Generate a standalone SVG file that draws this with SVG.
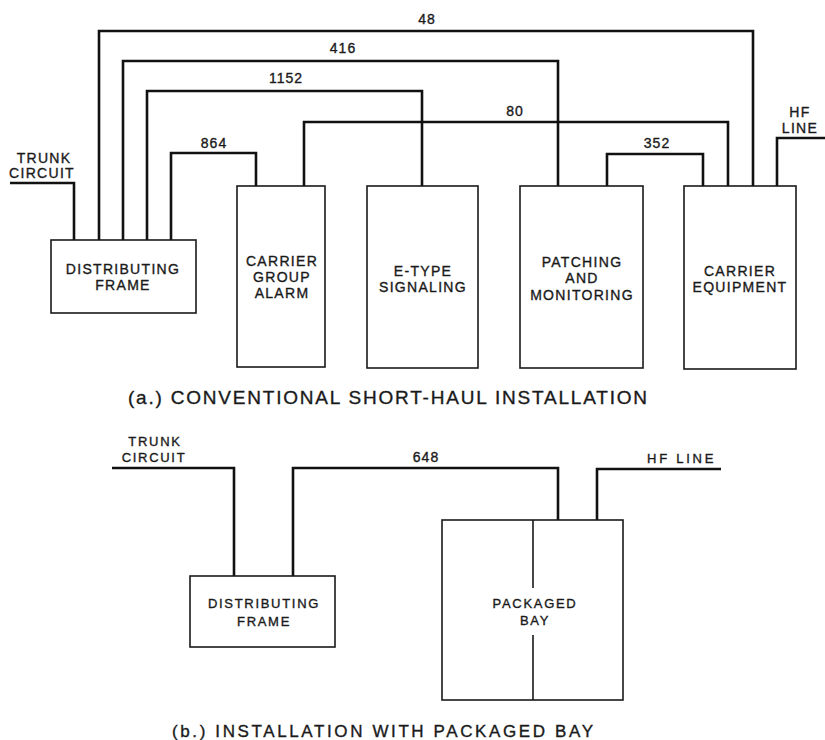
<svg xmlns="http://www.w3.org/2000/svg" width="825" height="740" viewBox="0 0 825 740">
<style>
.bg{fill:#ffffff}
.box{fill:none;stroke:#1a1a1a;stroke-width:1.6}
.wire{fill:none;stroke:#111;stroke-width:2.6;stroke-linejoin:miter;stroke-linecap:butt}
text{font-family:"Liberation Sans",Arial,sans-serif;fill:#1a1a1a;stroke:#1a1a1a;stroke-width:0.35;text-anchor:middle}
.lbl{font-size:14px;letter-spacing:1.3px}
.num{font-size:14px;letter-spacing:1px}
.sm{font-size:13px;letter-spacing:1.7px}
.cap{font-size:19px;text-anchor:start}
.capb{font-size:17px;text-anchor:start}
</style>
<rect class="bg" x="0" y="0" width="825" height="740"/>

<g id="connectors">
  <!-- part a -->
  <path class="wire" d="M10,183 H74 V240"/>
  <path class="wire" d="M99,240 V31 H753 V186"/>
  <path class="wire" d="M123,240 V61 H558 V186"/>
  <path class="wire" d="M147,240 V91 H422 V186"/>
  <path class="wire" d="M171,240 V153 H256 V186"/>
  <path class="wire" d="M304,186 V122 H728 V186"/>
  <path class="wire" d="M607,186 V154 H703 V186"/>
  <path class="wire" d="M825,138 H777 V186"/>
  <!-- part b -->
  <path class="wire" d="M112,468 H234 V576"/>
  <path class="wire" d="M293,576 V468 H558 V520"/>
  <path class="wire" d="M721,469 H597 V520"/>
</g>

<g id="connector-labels">
  <text class="num" x="427" y="24">48</text>
  <text class="num" x="343" y="53">416</text>
  <text class="num" x="286" y="83">1152</text>
  <text class="num" x="214" y="148">864</text>
  <text class="num" x="515" y="116">80</text>
  <text class="num" x="657" y="148">352</text>
  <text class="lbl" x="44" y="163">TRUNK</text>
  <text class="lbl" x="42" y="178">CIRCUIT</text>
  <text class="lbl" x="800" y="117">HF</text>
  <text class="lbl" x="800" y="133">LINE</text>
  <text class="sm" x="155" y="446">TRUNK</text>
  <text class="sm" x="154" y="462">CIRCUIT</text>
  <text class="num" x="426" y="462">648</text>
  <text class="sm" x="681" y="463" textLength="68" lengthAdjust="spacing">HF LINE</text>
</g>

<g id="a-distributing-frame">
  <rect class="box" x="51" y="240" width="145" height="73"/>
  <text class="lbl" x="123" y="274">DISTRIBUTING</text>
  <text class="lbl" x="123" y="290">FRAME</text>
</g>
<g id="carrier-group-alarm">
  <rect class="box" x="237" y="186" width="88" height="181"/>
  <text class="lbl" x="282" y="266">CARRIER</text>
  <text class="lbl" x="282" y="282">GROUP</text>
  <text class="lbl" x="282" y="298">ALARM</text>
</g>
<g id="e-type-signaling">
  <rect class="box" x="367" y="186" width="111" height="182"/>
  <text class="lbl" x="423" y="276">E-TYPE</text>
  <text class="lbl" x="423" y="292">SIGNALING</text>
</g>
<g id="patching-monitoring">
  <rect class="box" x="520" y="186" width="123" height="182"/>
  <text class="lbl" x="582" y="267">PATCHING</text>
  <text class="lbl" x="582" y="283">AND</text>
  <text class="lbl" x="582" y="300">MONITORING</text>
</g>
<g id="carrier-equipment">
  <rect class="box" x="684" y="186" width="112" height="183"/>
  <text class="lbl" x="740" y="276">CARRIER</text>
  <text class="lbl" x="740" y="292">EQUIPMENT</text>
</g>

<g id="b-distributing-frame">
  <rect class="box" x="190" y="576" width="145" height="71"/>
  <text class="sm" x="264" y="608">DISTRIBUTING</text>
  <text class="sm" x="264" y="626">FRAME</text>
</g>
<g id="packaged-bay">
  <rect class="box" x="442" y="520" width="181" height="180"/>
  <path class="box" d="M533,520 V588 M533,635 V700"/>
  <text class="sm" x="535" y="608">PACKAGED</text>
  <text class="sm" x="535" y="625">BAY</text>
</g>

<g id="captions">
  <text class="cap" x="128" y="404" textLength="519" lengthAdjust="spacing">(a.) CONVENTIONAL SHORT-HAUL INSTALLATION</text>
  <text class="capb" x="172" y="737" textLength="421" lengthAdjust="spacing">(b.) INSTALLATION WITH PACKAGED BAY</text>
</g>
</svg>
